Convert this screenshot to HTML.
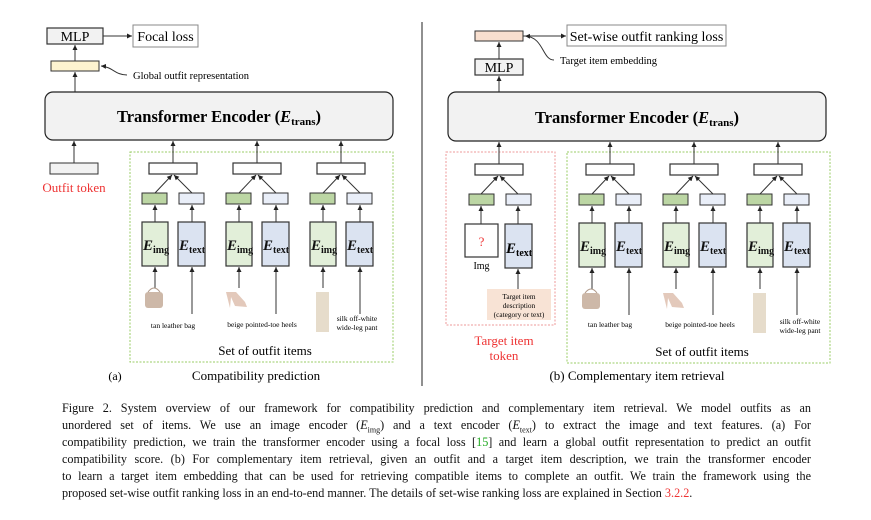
<!DOCTYPE html>
<html><head><meta charset="utf-8"><style>
body{margin:0;background:#fff;width:871px;height:520px;overflow:hidden;position:relative;font-family:"Liberation Serif",serif}
.cap{position:absolute;left:62px;width:749px;font-size:12.2px;line-height:16px;text-align:justify;text-align-last:justify;white-space:nowrap;color:#111}
.last{text-align-last:left}
.r{color:#e33}.g{color:#2a2}
sub{font-size:8px;line-height:0}
</style></head><body>
<svg width="871" height="400" style="position:absolute;left:0;top:0" font-family="Liberation Serif, serif">
<defs>
<marker id="a" markerWidth="6" markerHeight="6" refX="5" refY="3" orient="auto" markerUnits="userSpaceOnUse"><path d="M0,0.5 L5,3 L0,5.5z" fill="#222"/></marker>
<g id="grp" stroke="#333" stroke-width="1">
<rect x="-24" y="163" width="48" height="11" fill="#fff" stroke-width="1.2"/>
<line x1="0" y1="163" x2="0" y2="141" marker-end="url(#a)"/>
<rect x="-31" y="193" width="25" height="11" fill="#bcd6a4"/>
<rect x="6" y="193" width="25" height="11" fill="#e9eef8"/>
<line x1="-18" y1="193" x2="-1" y2="175" marker-end="url(#a)"/>
<line x1="19" y1="193" x2="1" y2="175" marker-end="url(#a)"/>
<rect x="-31" y="222" width="26" height="44" fill="#e2efd9" stroke-width="1.2"/>
<rect x="5" y="222" width="27" height="44" fill="#dbe3f1" stroke-width="1.2"/>
<line x1="-18" y1="222" x2="-18" y2="205" marker-end="url(#a)"/>
<line x1="19" y1="222" x2="19" y2="205" marker-end="url(#a)"/>
<line x1="-18" y1="288" x2="-18" y2="267" marker-end="url(#a)"/>
<line x1="19" y1="314" x2="19" y2="267" marker-end="url(#a)"/>
</g>
<g id="enc" font-weight="bold" font-style="italic" font-size="15" fill="#111">
<text x="-30" y="250">E<tspan font-size="10" font-style="normal" dy="3">img</tspan></text>
<text x="6" y="250">E<tspan font-size="10" font-style="normal" dy="3">text</tspan></text>
</g>
<g id="bag"><rect x="-28" y="292" width="18" height="16" rx="3" fill="#cdb8a8"/><path d="M-25,292 q6,-8 12,0" stroke="#b09a8a" fill="none"/></g>
<g id="heel"><path d="M-31,292 L-21,292 L-12,302 L-10,307 L-22,306 L-26,297 L-27,308 Z" fill="#e3c9bb"/></g>
<g id="pant"><rect x="-25" y="292" width="13" height="40" fill="#e6dccb"/></g>
</defs>

<line x1="422" y1="22" x2="422" y2="386" stroke="#222" stroke-width="1"/>

<rect x="47" y="28" width="56" height="16" fill="#f2f2f2" stroke="#333" stroke-width="1.2"/>
<text x="75" y="41" font-size="14" text-anchor="middle">MLP</text>
<line x1="103" y1="36" x2="132" y2="36" stroke="#333" marker-end="url(#a)"/>
<rect x="133" y="25" width="65" height="22" fill="#fff" stroke="#888"/>
<text x="165.5" y="41" font-size="14" text-anchor="middle">Focal loss</text>
<rect x="51" y="61" width="48" height="10" fill="#fdf3d0" stroke="#333"/>
<line x1="75" y1="61" x2="75" y2="45" stroke="#333" marker-end="url(#a)"/>
<line x1="75" y1="92" x2="75" y2="72" stroke="#333" marker-end="url(#a)"/>
<path d="M127,75 C115,75 113,67 101,66" stroke="#333" fill="none" marker-end="url(#a)"/>
<text x="133" y="79" font-size="10.5">Global outfit representation</text>
<rect x="45" y="92" width="348" height="48" rx="8" fill="#f2f2f2" stroke="#222" stroke-width="1.2"/>
<text x="219" y="122" font-size="16.5" font-weight="bold" text-anchor="middle">Transformer Encoder (<tspan font-style="italic">E</tspan><tspan font-size="11" dy="3">trans</tspan><tspan dy="-3">)</tspan></text>
<rect x="50" y="163" width="48" height="11" fill="#f2f2f2" stroke="#333"/>
<line x1="74" y1="163" x2="74" y2="141" stroke="#333" marker-end="url(#a)"/>
<text x="74" y="192" font-size="13" fill="#e33" text-anchor="middle">Outfit token</text>
<rect x="130" y="152" width="263" height="210" fill="none" stroke="#9c6" stroke-dasharray="2,1.5"/>
<g transform="translate(173,0)"><use href="#grp"/><use href="#enc"/><use href="#bag"/></g>
<g transform="translate(257,0)"><use href="#grp"/><use href="#enc"/><use href="#heel"/></g>
<g transform="translate(341,0)"><use href="#grp"/><use href="#enc"/><use href="#pant"/></g>
<g font-size="7.5" text-anchor="middle">
<text x="173" y="328">tan leather bag</text>
<text x="262" y="327">beige pointed-toe heels</text>
<text x="357" y="321">silk off-white</text>
<text x="357" y="330">wide-leg pant</text>
</g>
<text x="265" y="355" font-size="13" text-anchor="middle">Set of outfit items</text>
<text x="115" y="380" font-size="12" text-anchor="middle">(a)</text>
<text x="256" y="380" font-size="13" text-anchor="middle">Compatibility prediction</text>

<rect x="475" y="31" width="48" height="10" fill="#f8dfcf" stroke="#333"/>
<line x1="523" y1="36" x2="566" y2="36" stroke="#333" marker-end="url(#a)"/>
<rect x="567" y="25" width="159" height="21" fill="#fff" stroke="#888"/>
<text x="646.5" y="41" font-size="14" text-anchor="middle">Set-wise outfit ranking loss</text>
<rect x="475" y="59" width="48" height="16" fill="#f2f2f2" stroke="#333" stroke-width="1.2"/>
<text x="499" y="72" font-size="14" text-anchor="middle">MLP</text>
<line x1="499" y1="59" x2="499" y2="42" stroke="#333" marker-end="url(#a)"/>
<line x1="499" y1="92" x2="499" y2="76" stroke="#333" marker-end="url(#a)"/>
<path d="M554,60 C542,60 544,37 525,36" stroke="#333" fill="none" marker-end="url(#a)"/>
<text x="560" y="64" font-size="10.5">Target item embedding</text>
<rect x="448" y="92" width="378" height="49" rx="8" fill="#f2f2f2" stroke="#222" stroke-width="1.2"/>
<text x="637" y="123" font-size="16.5" font-weight="bold" text-anchor="middle">Transformer Encoder (<tspan font-style="italic">E</tspan><tspan font-size="11" dy="3">trans</tspan><tspan dy="-3">)</tspan></text>
<rect x="446" y="152" width="109" height="173" fill="none" stroke="#e99" stroke-dasharray="2,1.5"/>
<g stroke="#333">
<rect x="475" y="164" width="48" height="11" fill="#fff" stroke-width="1.2"/>
<line x1="499" y1="164" x2="499" y2="142" marker-end="url(#a)"/>
<rect x="469" y="194" width="25" height="11" fill="#bcd6a4"/>
<rect x="506" y="194" width="25" height="11" fill="#e9eef8"/>
<line x1="481" y1="194" x2="498" y2="176" marker-end="url(#a)"/>
<line x1="518" y1="194" x2="500" y2="176" marker-end="url(#a)"/>
<rect x="465" y="224" width="33" height="33" fill="#fff" stroke-width="1.2"/>
<rect x="505" y="224" width="27" height="44" fill="#dbe3f1" stroke-width="1.2"/>
<line x1="481" y1="224" x2="481" y2="206" marker-end="url(#a)"/>
<line x1="518" y1="224" x2="518" y2="206" marker-end="url(#a)"/>
<line x1="518" y1="289" x2="518" y2="269" marker-end="url(#a)"/>
</g>
<rect x="487" y="289" width="64" height="31" fill="#f8e3d5"/>
<text x="481.5" y="246" font-size="13" fill="#e33" text-anchor="middle">?</text>
<text x="481.5" y="269" font-size="10" text-anchor="middle">Img</text>
<text x="506" y="253" font-size="15" font-weight="bold" font-style="italic">E<tspan font-size="10" font-style="normal" dy="3">text</tspan></text>
<g font-size="7.3" text-anchor="middle"><text x="519" y="299">Target item</text><text x="519" y="308">description</text><text x="519" y="317">(category or text)</text></g>
<text x="504" y="345" font-size="13" fill="#e33" text-anchor="middle">Target item</text>
<text x="504" y="360" font-size="13" fill="#e33" text-anchor="middle">token</text>
<rect x="567" y="152" width="263" height="211" fill="none" stroke="#9c6" stroke-dasharray="2,1.5"/>
<g transform="translate(610,1)"><use href="#grp"/><use href="#enc"/><use href="#bag"/></g>
<g transform="translate(694,1)"><use href="#grp"/><use href="#enc"/><use href="#heel"/></g>
<g transform="translate(778,1)"><use href="#grp"/><use href="#enc"/><use href="#pant"/></g>
<g font-size="7.5" text-anchor="middle">
<text x="610" y="327">tan leather bag</text>
<text x="700" y="327">beige pointed-toe heels</text>
<text x="800" y="324">silk off-white</text>
<text x="800" y="333">wide-leg pant</text>
</g>
<text x="702" y="356" font-size="13" text-anchor="middle">Set of outfit items</text>
<text x="637" y="380" font-size="13" text-anchor="middle">(b) Complementary item retrieval</text>
</svg>

<div class="cap" style="top:400px">Figure 2. System overview of our framework for compatibility prediction and complementary item retrieval. We model outfits as an</div>
<div class="cap" style="top:417px">unordered set of items. We use an image encoder (<i>E</i><sub>img</sub>) and a text encoder (<i>E</i><sub>text</sub>) to extract the image and text features. (a) For</div>
<div class="cap" style="top:434px">compatibility prediction, we train the transformer encoder using a focal loss [<span class="g">15</span>] and learn a global outfit representation to predict an outfit</div>
<div class="cap" style="top:451px">compatibility score. (b) For complementary item retrieval, given an outfit and a target item description, we train the transformer encoder</div>
<div class="cap" style="top:468px">to learn a target item embedding that can be used for retrieving compatible items to complete an outfit. We train the framework using the</div>
<div class="cap last" style="top:485px">proposed set-wise outfit ranking loss in an end-to-end manner. The details of set-wise ranking loss are explained in Section <span class="r">3.2.2</span>.</div>
</body></html>
